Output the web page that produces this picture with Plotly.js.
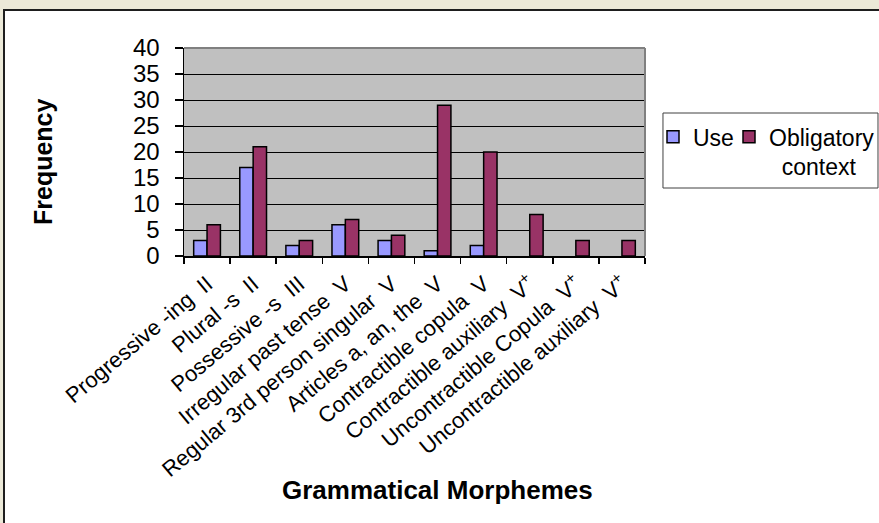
<!DOCTYPE html>
<html><head><meta charset="utf-8">
<script src="https://cdn.plot.ly/plotly-3.0.1.min.js"></script>
<style>
html,body{margin:0;padding:0;background:#ECE9D8;width:879px;height:523px;overflow:hidden;}
#frame{position:absolute;left:3px;top:9px;width:874px;height:512px;border-left:2px solid #1e1e1e;border-top:2px solid #1e1e1e;background:#fff;}
#chart{position:absolute;left:0;top:0;width:874px;height:512px;}
</style></head><body>
<div id="frame"><div id="chart"></div></div>
<script>
const categories = [
  "Progressive -ing  II",
  "Plural -s  II",
  "Possessive -s  III",
  "Irregular past tense  V",
  "Regular 3rd person singular  V",
  "Articles a, an, the  V",
  "Contractible copula  V",
  "Contractible auxiliary  V<sup>+</sup>",
  "Uncontractible Copula  V<sup>+</sup>",
  "Uncontractible auxiliary  V<sup>+</sup>"
];
const useValues = [3, 17, 2, 6, 3, 1, 2, 0, 0, 0];
const obligatoryValues = [6, 21, 3, 7, 4, 29, 20, 8, 3, 3];
const yTickValues = [0, 5, 10, 15, 20, 25, 30, 35, 40];
const seriesNames = ["Use", "Obligatory<br>\u00a0\u00a0context"];
const xTitle = "Grammatical Morphemes";
const yTitle = "Frequency";

const FONT = "Arial, 'Liberation Sans', sans-serif";
const outline = v => (v === 0 ? 0 : 1.5);

const traces = [
  {type: "bar", name: seriesNames[0], x: categories, y: useValues, legend: "legend",
   marker: {color: "#9999FF", line: {color: "#000", width: useValues.map(outline)}}},
  {type: "bar", name: seriesNames[1], x: categories, y: obligatoryValues, legend: "legend2",
   marker: {color: "#993366", line: {color: "#000", width: obligatoryValues.map(outline)}}}
];

const legendBase = {
  orientation: "h", xanchor: "left", yanchor: "top", y: 0.677,
  font: {size: 23, family: FONT, color: "#000"},
  bgcolor: "rgba(0,0,0,0)", borderwidth: 0, itemwidth: 30, valign: "top"
};

const layout = {
  width: 874, height: 512,
  margin: {l: 179, r: 234, t: 37, b: 267, autoexpand: false},
  paper_bgcolor: "#FFFFFF",
  plot_bgcolor: "#C0C0C0",
  font: {family: FONT, color: "#000"},
  barmode: "group",
  bargap: 0.42,
  bargroupgap: 0,
  showlegend: true,
  legend: Object.assign({}, legendBase, {x: (648 - 179) / 461}),
  legend2: Object.assign({}, legendBase, {x: (724 - 179) / 461}),
  xaxis: {
    type: "category", automargin: false,
    tickson: "boundaries", ticks: "outside", ticklen: 6, tickwidth: 1.5, tickcolor: "#000",
    ticklabelstandoff: 5,
    showline: true, linecolor: "#000", linewidth: 1.5,
    showgrid: false, tickangle: -40,
    tickfont: {size: 22, family: FONT, color: "#000"}
  },
  yaxis: {
    range: [0, 40], automargin: false,
    tickmode: "array", tickvals: yTickValues,
    ticks: "outside", ticklen: 8, tickwidth: 1.5, tickcolor: "#000",
    ticklabelstandoff: 10,
    showline: true, linecolor: "#000", linewidth: 1.5,
    showgrid: true, gridcolor: "#000", gridwidth: 1, zeroline: false,
    tickfont: {size: 24, family: FONT, color: "#000"}
  },
  annotations: [
    {text: xTitle, xref: "paper", yref: "paper", x: (432 - 179) / 461, y: (245 - 479) / 208,
     xanchor: "center", yanchor: "middle", showarrow: false,
     font: {size: 26, family: FONT, weight: 700, color: "#000"}},
    {text: yTitle, xref: "paper", yref: "paper", x: (38 - 179) / 461, y: (245 - 151) / 208,
     xanchor: "center", yanchor: "middle", showarrow: false, textangle: -90,
     font: {size: 25, family: FONT, weight: 700, color: "#000"}}
  ],
  shapes: [
    {type: "line", xref: "paper", yref: "paper", x0: 0, x1: 1, y0: 1, y1: 1, line: {color: "#808080", width: 2}},
    {type: "line", xref: "paper", yref: "paper", x0: 1, x1: 1, y0: 0, y1: 1, line: {color: "#808080", width: 2}},
    {type: "rect", xref: "paper", yref: "paper", x0: 1.039, x1: 1.5054, y0: 0.3269, y1: 0.6875,
     line: {color: "#404040", width: 1}, fillcolor: "#FFFFFF"}
  ]
};

Plotly.newPlot("chart", traces, layout, {displayModeBar: false, staticPlot: true});
</script>
</body></html>
